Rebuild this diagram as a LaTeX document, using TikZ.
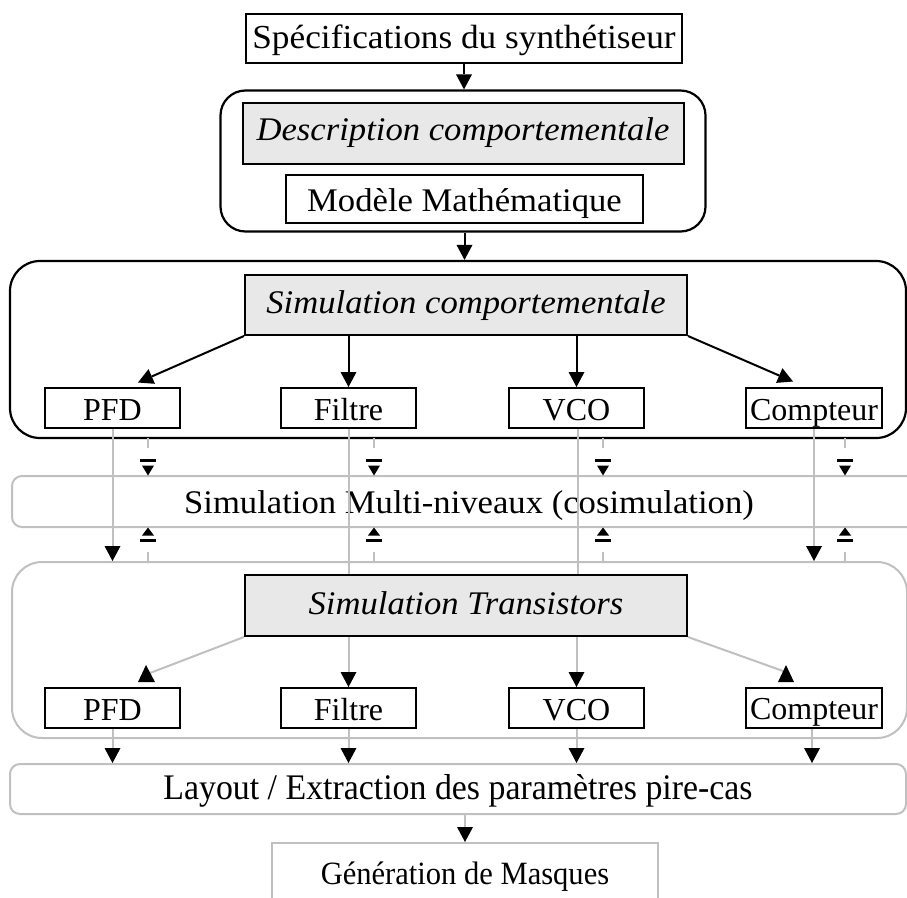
\documentclass[tikz,border=0pt]{standalone}
\usepackage{fontspec}
\setmainfont{Liberation Serif}
\newfontfamily\widefont{Liberation Serif}[FakeStretch=1.05]
\newfontfamily\narrowfont{Liberation Serif}[FakeStretch=0.94]
\usetikzlibrary{arrows.meta,calc}
\definecolor{lgray}{RGB}{192,192,192}
\definecolor{boxfill}{RGB}{232,232,232}
\begin{document}
\begin{tikzpicture}[x=1pt,y=-1pt,
  tipk/.style={-{Triangle[width=16pt,length=15pt,color=black,fill=black,line width=0pt]}},
  blk/.style={line width=2pt,draw=black},
  gry/.style={line width=2pt,draw=lgray},
  tdp/.style={text height=#1,text depth=0pt},
  bigfont/.style={font=\widefont\fontsize{33}{40}\selectfont},
  smallfont/.style={font=\fontsize{32}{36}\selectfont},
  box/.style={draw=black,line width=2pt,inner sep=0pt,bigfont},
  sbox/.style={draw=black,line width=2pt,inner sep=0pt,smallfont,minimum width=135pt,minimum height=40pt,tdp=24pt},
  grbox/.style={draw=black,line width=2pt,inner sep=0pt,fill=boxfill,font=\widefont\fontsize{33}{40}\selectfont\itshape},
  outerk/.style={draw=black,line width=2.2pt,inner sep=0pt},
  outerg/.style={draw=lgray,line width=2pt,inner sep=0pt},
  dashg/.style={draw=lgray,line width=2pt,dash pattern=on 10pt off 8pt},
  barmark/.style={draw=black,line width=3pt}
]
\clip (0,0) rectangle (907,897);
\fill[white] (0,0) rectangle (907,897);

% top
\node[box,minimum width=436pt,minimum height=49pt,tdp=19.6pt,font=\widefont\fontsize{33.6}{40}\selectfont] (spec) at (464,38.5) {Spécifications du synthétiseur};
\node[outerk,minimum width=485pt,minimum height=141pt,rounded corners=25pt] (outer1) at (463,161) {};
\node[grbox,minimum width=441pt,minimum height=61pt,tdp=14pt] (desc) at (463,133.5) {Description comportementale};
\node[box,minimum width=357pt,minimum height=48pt,tdp=25pt] (modele) at (464.5,199) {Modèle Mathématique};

% level 2
\node[outerk,minimum width=896pt,minimum height=177pt,rounded corners=30pt] (outer2) at (458,349.5) {};
\node[grbox,minimum width=442pt,minimum height=60pt,tdp=17pt] (simcomp) at (466,305) {Simulation comportementale};
\node[sbox] (pfd) at (112.5,408) {PFD};
\node[sbox] (filtre) at (348.5,408) {Filtre};
\node[sbox] (vco) at (576.5,408) {VCO};
\node[sbox,minimum width=136pt] (compt) at (814,408) {Compteur};

% multi
\node[outerg,minimum width=914pt,minimum height=51pt,rounded corners=10pt,bigfont,tdp=23pt] (multi) at (469,501.5) {Simulation Multi-niveaux (cosimulation)};

% level 3
\node[outerg,minimum width=895pt,minimum height=176pt,rounded corners=30pt] (outer3) at (459.5,650) {};
\node[grbox,minimum width=442pt,minimum height=61pt,tdp=17pt] (simtrans) at (466,605.5) {Simulation Transistors};
\node[sbox] (pfdb) at (112.5,708) {PFD};
\node[sbox] (filtreb) at (348.5,708) {Filtre};
\node[sbox] (vcob) at (576.5,708) {VCO};
\node[sbox,minimum width=136pt] (comptb) at (814,707.5) {Compteur};

% bottom
\node[outerg,minimum width=896pt,minimum height=50pt,rounded corners=10pt,font=\narrowfont\fontsize{36}{42}\selectfont,tdp=20pt] (layout) at (458,789) {Layout / Extraction des paramètres pire-cas};
\node[outerg,minimum width=386pt,minimum height=60pt,font=\narrowfont\fontsize{32.5}{38}\selectfont,tdp=22pt] (gen) at (465,873) {Génération de Masques};

% connectors top
\draw[blk,tipk] (spec.south) -- (spec.south |- outer1.north);
\draw[blk,tipk] (modele.south |- outer1.south) -- (modele.south |- outer2.north);

% level 2 arrows
\draw[blk,tipk] (simcomp.south west) -- ($(pfd.north)+(25.5,-4.5)$);
\draw[blk,tipk] (filtre.north |- simcomp.south) -- (filtre.north);
\draw[blk,tipk] (vco.north |- simcomp.south) -- (vco.north);
\draw[blk,tipk] (simcomp.south east) -- ($(compt.north)+(-21,-5.5)$);

% long lines
\draw[gry,tipk] (pfd.south) -- (pfd.south |- outer3.north);
\draw[gry] (filtre.south) -- (filtre.south |- simtrans.north);
\draw[gry] ($(vco.south)+(1.5,0)$) -- ($(vco.south |- simtrans.north)+(1.5,0)$);
\draw[gry,tipk] (compt.south) -- (compt.south |- outer3.north);

% dashed cosimulation markers
\foreach \x in {148,374,603,845}{
  \draw[dashg] (\x,438) -- (\x,456);
  \draw[barmark] (\x-8,460.5) -- (\x+8,460.5);
  \fill[black] (\x-6,465.5) -- (\x+6,465.5) -- (\x,475.5) -- cycle;
  \fill[black] (\x,527.5) -- (\x-6,535.5) -- (\x+6,535.5) -- cycle;
  \draw[barmark] (\x-8,540) -- (\x+8,540);
  \draw[dashg] (\x,562) -- (\x,545);
}

% level 3 arrows
\coordinate (pfdend) at ($(pfdb.north)+(37.5,-14)$);
\draw[gry] (simtrans.south west) -- (pfdend);
\fill[black] ($(pfdb.north)+(33.5,-22)$) -- ($(pfdb.north)+(25.5,-5)$) -- ($(pfdb.north)+(42.5,-5)$) -- cycle;
\draw[gry,tipk] (filtreb.north |- simtrans.south) -- (filtreb.north);
\draw[gry,tipk] (vcob.north |- simtrans.south) -- (vcob.north);
\coordinate (comptend) at ($(comptb.north)+(-31,-15.5)$);
\draw[gry] (simtrans.south east) -- (comptend);
\fill[black] ($(comptb.north)+(-28,-21.5)$) -- ($(comptb.north)+(-36,-4.5)$) -- ($(comptb.north)+(-20,-4.5)$) -- cycle;

% bottom arrows
\draw[gry,tipk] (pfdb.south) -- (pfdb.south |- layout.north);
\draw[gry,tipk] (filtreb.south) -- (filtreb.south |- layout.north);
\draw[gry,tipk] (vcob.south) -- (vcob.south |- layout.north);
\draw[gry,tipk] ($(comptb.south)+(-2,0)$) -- ($(comptb.south |- layout.north)+(-2,0)$);
\draw[gry,tipk] (gen.north |- layout.south) -- (gen.north);
\end{tikzpicture}
\end{document}
